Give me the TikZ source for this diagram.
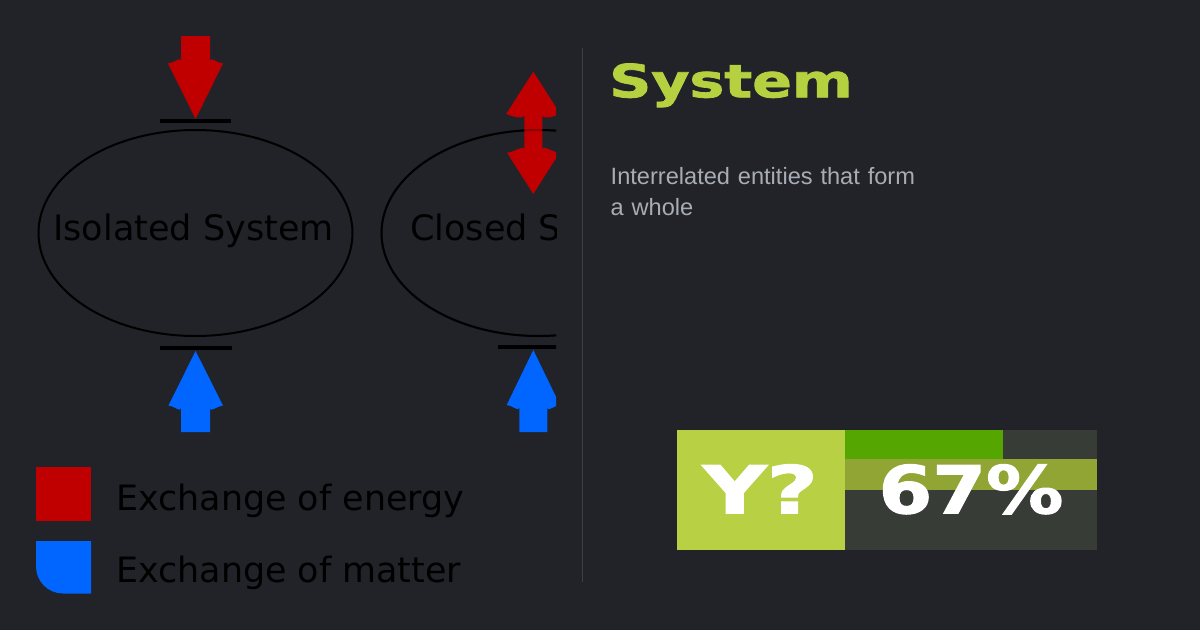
\documentclass[tikz,border=0pt]{standalone}
\usepackage{fontspec}
\setmainfont{DejaVu Sans}
\newfontfamily\subfont{Liberation Sans}
\newfontfamily\heavyfont{DejaVu Sans}[BoldFeatures={FakeBold=1.6}]
\usetikzlibrary{shapes.geometric}
\definecolor{bgc}{HTML}{212328}
\definecolor{ered}{HTML}{C00000}
\definecolor{mblue}{HTML}{0066FF}
\definecolor{titlegreen}{HTML}{B6D140}
\definecolor{badgeleft}{HTML}{B8D043}
\definecolor{barbright}{HTML}{55A600}
\definecolor{barolive}{HTML}{91A535}
\definecolor{badgedark}{HTML}{383C37}
\definecolor{divider}{HTML}{3B3F46}
\definecolor{subgray}{HTML}{A8ACB4}
\tikzset{
  sysellipse/.style={ellipse, draw=black, line width=2pt, minimum width=314pt, minimum height=206pt, inner sep=0pt},
  systext/.style={inner sep=0pt, text=black, font=\fontsize{35}{42}\selectfont},
  legtext/.style={inner sep=0pt, text=black, font=\fontsize{34.9}{42}\selectfont},
  barline/.style={line width=3.2pt, black},
  bigwhite/.style={inner sep=0pt, text=white, font=\heavyfont\bfseries\fontsize{66}{70}\selectfont},
}
\begin{document}
\begin{tikzpicture}[x=1pt,y=-1pt]
\fill[bgc] (0,0) rectangle (1200,630);
\useasboundingbox (0,0) rectangle (1200,630);

% ---------- left diagram ----------
\begin{scope}
\clip (0,0) rectangle (556,630);
% isolated system
\node[sysellipse] (iso) at (195.5,233) {};
\node[systext, anchor=base] (isotext) at (193.5,240) {Isolated System};
\coordinate (isotopL) at (159.6,121);
\coordinate (isotopR) at (230.8,121);
\draw[barline] (isotopL) -- (isotopR);
\coordinate (isobotL) at (160,348);
\coordinate (isobotR) at (231.5,348);
\draw[barline] (isobotL) -- (isobotR);
% red arrow down (energy blocked)
\fill[ered] (181,36) -- (210,36) -- (210,61) to[out=90,in=180] (223,63.5) -- (195.6,119) -- (168,63.5) to[out=0,in=90] (181,61) -- cycle;
% blue arrow up (matter blocked)
\fill[mblue] (181,432) -- (210,432) -- (210,408) to[out=-90,in=180] (223,405.5) -- (195.6,351) -- (168.4,405.5) to[out=0,in=-90] (181,408) -- cycle;

% closed system
\node[sysellipse] (clo) at (538.5,233) {};
\node[systext, anchor=base west] (clotext) at (410,240) {Closed System};
\coordinate (clobotL) at (498.3,347);
\coordinate (clobotR) at (568,347);
\draw[barline] (clobotL) -- (clobotR);
% red double arrow (energy exchanged)
\fill[ered] (533.3,71.7) -- (559.5,112.7) to[out=0,in=-90] (542.3,115) -- (542.3,150.4) to[out=90,in=180] (559.5,152.7) -- (533.3,194) -- (507,152.7) to[out=0,in=90] (524.3,150.4) -- (524.3,115) to[out=-90,in=180] (507,112.7) -- cycle;
% boundary faintly visible through the double arrow
\draw[black, opacity=0.3, line width=2pt] (clo.center) ellipse [x radius=157, y radius=103];
% blue arrow up (matter blocked)
\fill[mblue] (519.3,432) -- (547.3,432) -- (547.3,407.5) to[out=-90,in=180] (560,405) -- (533.3,350) -- (506.7,405) to[out=0,in=-90] (519.3,407.5) -- cycle;
\end{scope}

% legend
\fill[ered] (36,467) rectangle (91,521);
\fill[mblue] (36,541) -- (91,541) -- (91,593.5) [rounded corners=27pt] -- (36,593.5) [sharp corners] -- (36,541) -- cycle;
\node[legtext, anchor=base west] (legE) at (116,510) {Exchange of energy};
\node[legtext, anchor=base west] (legM) at (116,582) {Exchange of matter};

% divider
\coordinate (divtop) at (582.3,48);
\coordinate (divbot) at (582.3,581.5);
\draw[divider, line width=1.2pt] (divtop) -- (divbot);

% ---------- right card ----------
\node[inner sep=0pt, anchor=base west, text=titlegreen, font=\heavyfont\bfseries\fontsize{45.7}{50}\selectfont] (title) at (609,97.3) {\scalebox{1.28}[1]{System}};
\node[inner sep=0pt, anchor=base west, text width=330pt, align=left, text=subgray, font=\subfont\fontsize{23.6}{31.7}\selectfont] (sub) at (610.5,184) {Interrelated entities that form\\a whole};

% badge
\fill[badgeleft] (676.7,430) rectangle (845,550);
\fill[badgedark] (845,430) rectangle (1096.7,550);
\fill[barbright] (845,430) rectangle (1002.7,459.3);
\fill[barolive] (845,459.3) rectangle (1096.7,490);
\node[bigwhite, anchor=base] (ytext) at (760.4,513.3) {\scalebox{1.34}[1]{Y?}};
\node[bigwhite, anchor=base] (pct) at (971,513.3) {\scalebox{1.17}[1]{67\%}};
\end{tikzpicture}
\end{document}
